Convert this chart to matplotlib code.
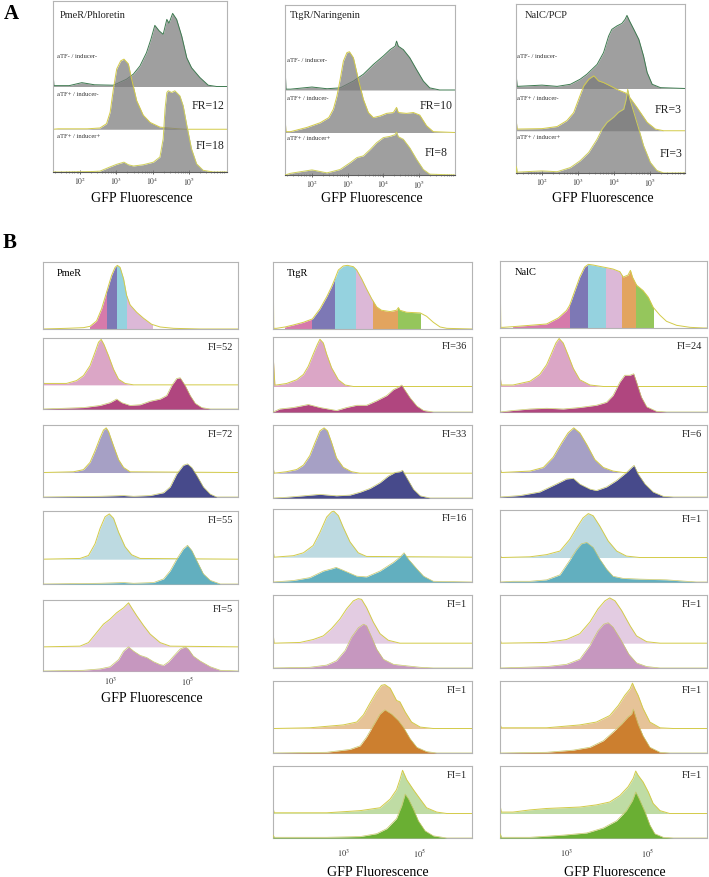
import numpy as np
import matplotlib
matplotlib.use("Agg")
import matplotlib.pyplot as plt
from matplotlib.patches import Rectangle

plt.rcParams['font.family'] = ['Liberation Serif', 'DejaVu Serif']
plt.rcParams['mathtext.fontset'] = 'stix'

W, H = 709, 878

# ---------------- data: (log10 GFP, histogram height) ----------------
# panel A, heights in lane units (one lane per sample)
a_pmer_off = [(1.26, 0.30), (1.28, 0.02), (1.7, 0.02), (2.05, 0.09), (2.4, 0.04), (2.92, 0.03), (3.28, 0.17),
              (3.47, 0.29), (3.65, 0.48), (3.83, 0.79), (3.95, 1.10), (4.06, 1.43), (4.18, 1.30), (4.29, 1.22),
              (4.39, 1.57), (4.45, 1.48), (4.55, 1.71), (4.66, 1.57), (4.80, 1.18), (4.94, 0.67), (5.07, 0.44),
              (5.30, 0.21), (5.53, 0.03), (5.76, 0.0)]
a_pmer_mid = [(1.4, 0.01), (2.2, 0.01), (2.55, 0.03), (2.73, 0.13), (2.83, 0.40), (2.92, 0.95), (3.01, 1.41),
              (3.12, 1.60), (3.21, 1.64), (3.33, 1.53), (3.42, 1.18), (3.56, 0.67), (3.74, 0.33), (3.93, 0.16),
              (4.20, 0.05), (4.57, 0.02), (4.9, 0.0)]
a_pmer_on = [(1.5, 0.0), (2.3, 0.01), (2.55, 0.02), (2.83, 0.12), (3.01, 0.18), (3.21, 0.23), (3.33, 0.17),
             (3.47, 0.14), (3.74, 0.17), (4.02, 0.23), (4.20, 0.35), (4.29, 0.78), (4.34, 1.47), (4.39, 1.86),
             (4.43, 1.90), (4.52, 1.86), (4.61, 1.90), (4.75, 1.78), (4.84, 1.55), (4.94, 1.09), (5.07, 0.54),
             (5.21, 0.19), (5.39, 0.04), (5.67, 0.0)]

a_ttgr_off = [(1.25, 0.48), (1.27, 0.02), (1.40, 0.02), (2.0, 0.07), (2.42, 0.03), (2.79, 0.05), (3.16, 0.21),
              (3.44, 0.37), (3.72, 0.60), (4.0, 0.80), (4.19, 0.95), (4.33, 1.03), (4.37, 1.15), (4.42, 1.03),
              (4.56, 0.95), (4.74, 0.76), (4.93, 0.48), (5.12, 0.21), (5.30, 0.05), (5.58, 0.0)]
a_ttgr_mid = [(1.25, 0.30), (1.27, 0.02), (1.40, 0.02), (1.86, 0.12), (2.23, 0.23), (2.47, 0.35), (2.60, 0.55),
              (2.70, 0.86), (2.79, 1.25), (2.88, 1.68), (2.98, 1.88), (3.05, 1.90), (3.16, 1.76), (3.30, 1.25),
              (3.44, 0.78), (3.58, 0.47), (3.72, 0.35), (3.91, 0.39), (4.09, 0.45), (4.28, 0.47), (4.37, 0.59),
              (4.42, 0.47), (4.65, 0.45), (4.84, 0.47), (5.02, 0.41), (5.21, 0.16), (5.40, 0.02)]
a_ttgr_on = [(1.40, 0.04), (2.0, 0.12), (2.42, 0.05), (2.79, 0.13), (3.07, 0.29), (3.26, 0.41), (3.44, 0.45),
             (3.63, 0.60), (3.81, 0.76), (4.0, 0.88), (4.19, 0.91), (4.33, 0.95), (4.37, 1.01), (4.42, 0.90),
             (4.56, 0.84), (4.74, 0.64), (4.93, 0.37), (5.12, 0.13), (5.30, 0.02)]

a_nalc_off = [(1.29, 0.25), (1.31, 0.05), (2.0, 0.08), (2.42, 0.05), (2.79, 0.10), (3.06, 0.22), (3.25, 0.34),
              (3.53, 0.57), (3.71, 0.85), (3.85, 1.24), (3.94, 1.40), (4.08, 1.48), (4.22, 1.54), (4.31, 1.64),
              (4.36, 1.73), (4.43, 1.60), (4.55, 1.40), (4.69, 1.16), (4.82, 0.77), (4.92, 0.38), (5.06, 0.10),
              (5.29, 0.02)]
a_nalc_mid = [(1.29, 0.20), (1.31, 0.04), (2.0, 0.05), (2.42, 0.10), (2.69, 0.24), (2.88, 0.43), (3.02, 0.75),
              (3.16, 1.06), (3.30, 1.22), (3.44, 1.30), (3.57, 1.18), (3.71, 1.14), (3.90, 1.06), (4.08, 0.98),
              (4.36, 0.88), (4.64, 0.55), (4.92, 0.20), (5.15, 0.04), (5.38, 0.0)]
a_nalc_on = [(1.29, 0.15), (1.31, 0.02), (2.0, 0.05), (2.42, 0.03), (2.79, 0.13), (3.06, 0.29), (3.30, 0.49),
             (3.53, 0.80), (3.67, 1.04), (3.81, 1.20), (3.99, 1.32), (4.13, 1.44), (4.27, 1.51), (4.34, 1.75),
             (4.38, 1.98), (4.44, 1.75), (4.55, 1.44), (4.69, 1.04), (4.82, 0.65), (5.01, 0.25), (5.19, 0.06),
             (5.38, 0.0)]

# panel B, heights as a fraction of the box height
pmer_ref = [(1.87, 0.01), (2.31, 0.02), (2.48, 0.04), (2.65, 0.12), (2.78, 0.30), (2.91, 0.55), (3.04, 0.80),
            (3.13, 0.92), (3.19, 0.95), (3.26, 0.92), (3.35, 0.75), (3.43, 0.50), (3.52, 0.36), (3.69, 0.25),
            (3.87, 0.16), (4.08, 0.07), (4.30, 0.03), (4.65, 0.01), (5.34, 0.0)]
pmer_gates = [2.48, 2.93, 3.19, 3.45, 4.08]
pmer_r1_top = [(1.26, 0.07), (1.28, 0.02), (1.87, 0.02), (2.13, 0.06), (2.31, 0.13), (2.48, 0.27), (2.61, 0.46),
               (2.70, 0.60), (2.77, 0.64), (2.84, 0.57), (2.96, 0.41), (3.09, 0.22), (3.22, 0.08), (3.39, 0.02),
               (3.61, 0.0)]
pmer_r1_bot = [(2.31, 0.02), (2.74, 0.05), (3.0, 0.09), (3.17, 0.14), (3.30, 0.09), (3.52, 0.05), (3.78, 0.06),
               (4.04, 0.11), (4.30, 0.14), (4.47, 0.19), (4.60, 0.33), (4.73, 0.43), (4.82, 0.44), (4.95, 0.33),
               (5.08, 0.19), (5.21, 0.08), (5.38, 0.02), (5.60, 0.0)]
pmer_r2_top = [(2.05, 0.01), (2.31, 0.04), (2.48, 0.14), (2.61, 0.30), (2.74, 0.48), (2.83, 0.59), (2.90, 0.62),
               (2.96, 0.57), (3.09, 0.37), (3.22, 0.18), (3.35, 0.07), (3.52, 0.01)]
pmer_r2_bot = [(2.74, 0.01), (3.35, 0.02), (3.61, 0.01), (4.04, 0.02), (4.39, 0.06), (4.56, 0.14), (4.73, 0.32),
               (4.90, 0.44), (5.01, 0.46), (5.12, 0.41), (5.25, 0.30), (5.42, 0.14), (5.60, 0.04), (5.77, 0.0)]
pmer_r3_top = [(2.22, 0.01), (2.44, 0.05), (2.61, 0.21), (2.74, 0.42), (2.87, 0.58), (2.98, 0.62), (3.09, 0.56),
               (3.22, 0.37), (3.39, 0.17), (3.56, 0.06), (3.78, 0.01)]
pmer_r3_bot = [(2.74, 0.01), (3.35, 0.02), (3.61, 0.01), (4.13, 0.02), (4.39, 0.07), (4.56, 0.18), (4.73, 0.34),
               (4.90, 0.48), (5.01, 0.53), (5.12, 0.46), (5.25, 0.32), (5.42, 0.14), (5.60, 0.05), (5.86, 0.0)]
pmer_r4_top = [(2.22, 0.01), (2.44, 0.06), (2.65, 0.20), (2.83, 0.32), (3.0, 0.39), (3.17, 0.48), (3.35, 0.55),
               (3.48, 0.62), (3.56, 0.55), (3.69, 0.44), (3.87, 0.30), (4.04, 0.18), (4.30, 0.06), (4.56, 0.01)]
pmer_r4_bot = [(2.31, 0.01), (2.74, 0.03), (3.0, 0.06), (3.22, 0.16), (3.35, 0.28), (3.48, 0.34), (3.61, 0.28),
               (3.78, 0.22), (3.95, 0.19), (4.13, 0.13), (4.30, 0.09), (4.39, 0.08), (4.52, 0.13), (4.65, 0.21),
               (4.82, 0.31), (4.95, 0.34), (5.03, 0.31), (5.16, 0.21), (5.34, 0.14), (5.60, 0.06), (5.86, 0.01)]
pmer_fi = [52, 72, 55, 5]

ttgr_ref = [(1.12, 0.60), (1.13, 0.01), (1.20, 0.01), (1.43, 0.03), (1.65, 0.06), (1.92, 0.10), (2.16, 0.15),
            (2.36, 0.30), (2.54, 0.48), (2.67, 0.63), (2.76, 0.75), (2.85, 0.88), (2.98, 0.94), (3.09, 0.95),
            (3.25, 0.93), (3.34, 0.88), (3.47, 0.75), (3.60, 0.60), (3.74, 0.45), (3.87, 0.33), (4.0, 0.28),
            (4.23, 0.26), (4.40, 0.28), (4.45, 0.32), (4.49, 0.28), (4.67, 0.25), (5.03, 0.24), (5.20, 0.19),
            (5.38, 0.10), (5.56, 0.03), (5.74, 0.01)]
ttgr_gates = [1.43, 2.16, 2.76, 3.31, 3.76, 4.43, 5.03]
ttgr_r1_top = [(1.12, 0.36), (1.16, 0.02), (1.20, 0.02), (1.47, 0.04), (1.74, 0.09), (1.92, 0.16), (2.05, 0.27),
               (2.18, 0.43), (2.29, 0.56), (2.36, 0.63), (2.45, 0.58), (2.54, 0.43), (2.67, 0.25), (2.85, 0.09),
               (3.03, 0.02), (3.25, 0.0)]
ttgr_r1_bot = [(1.29, 0.04), (1.65, 0.06), (2.05, 0.10), (2.36, 0.06), (2.80, 0.02), (3.07, 0.06), (3.34, 0.09),
               (3.60, 0.09), (3.87, 0.15), (4.14, 0.22), (4.32, 0.30), (4.45, 0.33), (4.54, 0.36), (4.60, 0.31),
               (4.76, 0.19), (4.94, 0.08), (5.12, 0.02), (5.38, 0.0)]
ttgr_r2_top = [(1.12, 0.06), (1.14, 0.0), (1.47, 0.02), (1.74, 0.05), (1.92, 0.11), (2.09, 0.24), (2.23, 0.42),
               (2.36, 0.58), (2.47, 0.62), (2.56, 0.58), (2.67, 0.42), (2.80, 0.21), (2.98, 0.08), (3.20, 0.02),
               (3.42, 0.0)]
ttgr_r2_bot = [(1.47, 0.01), (1.92, 0.03), (2.36, 0.05), (2.80, 0.03), (3.16, 0.04), (3.43, 0.08), (3.69, 0.13),
               (3.96, 0.21), (4.18, 0.30), (4.36, 0.35), (4.49, 0.36), (4.56, 0.38), (4.67, 0.28), (4.85, 0.12),
               (5.03, 0.03), (5.29, 0.0)]
ttgr_r3_top = [(1.12, 0.07), (1.14, 0.0), (1.65, 0.02), (1.92, 0.06), (2.18, 0.16), (2.36, 0.34), (2.54, 0.55),
               (2.67, 0.62), (2.73, 0.63), (2.85, 0.57), (2.98, 0.41), (3.16, 0.21), (3.38, 0.06), (3.60, 0.01)]
ttgr_r3_bot = [(1.65, 0.02), (2.09, 0.06), (2.45, 0.15), (2.67, 0.18), (2.79, 0.20), (2.98, 0.16), (3.34, 0.08),
               (3.60, 0.07), (3.96, 0.15), (4.32, 0.27), (4.49, 0.34), (4.60, 0.40), (4.72, 0.31), (4.94, 0.18),
               (5.12, 0.08), (5.38, 0.01)]
ttgr_r4_top = [(1.12, 0.10), (1.14, 0.0), (1.83, 0.01), (2.18, 0.05), (2.45, 0.10), (2.67, 0.20), (2.89, 0.33),
               (3.07, 0.47), (3.25, 0.58), (3.38, 0.61), (3.47, 0.60), (3.60, 0.49), (3.78, 0.29), (3.96, 0.13),
               (4.18, 0.04), (4.49, 0.0)]
ttgr_r4_bot = [(2.09, 0.01), (2.54, 0.04), (2.80, 0.10), (3.03, 0.24), (3.20, 0.42), (3.38, 0.55), (3.52, 0.60),
               (3.60, 0.58), (3.74, 0.42), (3.87, 0.26), (4.05, 0.12), (4.32, 0.05), (4.67, 0.03), (5.03, 0.01),
               (5.38, 0.0)]
ttgr_r5_top = [(2.09, 0.01), (2.98, 0.05), (3.34, 0.09), (3.52, 0.19), (3.69, 0.35), (3.87, 0.51), (4.0, 0.60),
               (4.09, 0.61), (4.23, 0.56), (4.40, 0.39), (4.49, 0.37), (4.63, 0.23), (4.80, 0.09), (5.03, 0.02),
               (5.38, 0.0)]
ttgr_r5_bot = [(2.54, 0.01), (3.16, 0.05), (3.43, 0.10), (3.60, 0.22), (3.78, 0.38), (3.96, 0.54), (4.09, 0.60),
               (4.27, 0.54), (4.45, 0.45), (4.58, 0.36), (4.76, 0.20), (4.94, 0.08), (5.20, 0.02), (5.47, 0.0)]
ttgr_r6_top = [(1.12, 0.06), (1.14, 0.01), (2.54, 0.01), (3.43, 0.04), (3.96, 0.08), (4.23, 0.20), (4.40, 0.33),
               (4.49, 0.47), (4.56, 0.60), (4.67, 0.47), (4.85, 0.33), (5.03, 0.20), (5.20, 0.08), (5.47, 0.02),
               (5.74, 0.0)]
ttgr_r6_bot = [(1.12, 0.04), (1.14, 0.01), (2.54, 0.01), (3.43, 0.02), (3.87, 0.06), (4.14, 0.13), (4.40, 0.27),
               (4.54, 0.45), (4.63, 0.61), (4.72, 0.54), (4.85, 0.40), (4.98, 0.24), (5.16, 0.10), (5.38, 0.03),
               (5.74, 0.0)]
ttgr_fi = [36, 33, 16, 1, 1, 1]

nalc_ref = [(1.36, 0.49), (1.37, 0.01), (1.43, 0.01), (1.67, 0.02), (2.09, 0.04), (2.50, 0.06), (2.79, 0.15),
            (2.99, 0.26), (3.07, 0.34), (3.20, 0.56), (3.32, 0.76), (3.44, 0.91), (3.53, 0.95), (3.65, 0.94),
            (3.81, 0.92), (3.98, 0.90), (4.14, 0.88), (4.31, 0.84), (4.39, 0.76), (4.51, 0.79), (4.57, 0.86),
            (4.62, 0.76), (4.72, 0.64), (4.88, 0.56), (5.01, 0.46), (5.13, 0.31), (5.30, 0.19), (5.46, 0.10),
            (5.71, 0.04), (6.04, 0.01), (6.37, 0.0)]
nalc_gates = [1.67, 3.07, 3.53, 3.97, 4.37, 4.70, 5.12]
nalc_r1_top = [(1.36, 0.11), (1.38, 0.02), (1.67, 0.02), (2.09, 0.07), (2.33, 0.16), (2.50, 0.29), (2.62, 0.44),
               (2.73, 0.58), (2.81, 0.64), (2.91, 0.58), (3.03, 0.42), (3.16, 0.24), (3.32, 0.09), (3.57, 0.02),
               (3.90, 0.0)]
nalc_r1_bot = [(1.67, 0.02), (2.09, 0.04), (2.50, 0.05), (2.91, 0.04), (3.32, 0.06), (3.73, 0.09), (3.98, 0.13),
               (4.14, 0.22), (4.31, 0.40), (4.43, 0.49), (4.56, 0.49), (4.65, 0.51), (4.72, 0.40), (4.84, 0.20),
               (4.97, 0.07), (5.21, 0.01), (5.46, 0.0)]
nalc_r2_top = [(1.36, 0.05), (1.38, 0.0), (2.09, 0.02), (2.42, 0.07), (2.66, 0.21), (2.87, 0.41), (3.03, 0.55),
               (3.17, 0.62), (3.32, 0.55), (3.49, 0.39), (3.69, 0.18), (3.90, 0.07), (4.14, 0.02), (4.39, 0.0)]
nalc_r2_bot = [(1.84, 0.02), (2.33, 0.07), (2.74, 0.18), (2.99, 0.25), (3.16, 0.26), (3.32, 0.18), (3.57, 0.11),
               (3.73, 0.09), (3.98, 0.14), (4.23, 0.23), (4.47, 0.34), (4.60, 0.41), (4.66, 0.44), (4.76, 0.32),
               (4.93, 0.18), (5.13, 0.07), (5.38, 0.01), (5.63, 0.0)]
nalc_r3_top = [(1.36, 0.03), (1.38, 0.0), (2.09, 0.01), (2.50, 0.04), (2.83, 0.09), (3.07, 0.25), (3.24, 0.41),
               (3.40, 0.55), (3.53, 0.61), (3.65, 0.58), (3.81, 0.44), (4.02, 0.23), (4.23, 0.09), (4.47, 0.02),
               (4.80, 0.0)]
nalc_r3_bot = [(1.67, 0.01), (2.09, 0.01), (2.50, 0.03), (2.83, 0.10), (3.07, 0.30), (3.24, 0.45), (3.36, 0.53),
               (3.49, 0.55), (3.65, 0.48), (3.81, 0.32), (3.98, 0.18), (4.14, 0.08), (4.39, 0.05), (4.80, 0.04),
               (5.46, 0.03), (5.95, 0.01), (6.2, 0.0)]
nalc_r4_top = [(1.36, 0.04), (1.38, 0.0), (2.50, 0.01), (2.99, 0.05), (3.32, 0.13), (3.57, 0.29), (3.77, 0.47),
               (3.94, 0.58), (4.06, 0.62), (4.19, 0.58), (4.35, 0.45), (4.56, 0.24), (4.72, 0.10), (4.97, 0.02),
               (5.30, 0.0)]
nalc_r4_bot = [(2.50, 0.02), (2.99, 0.05), (3.32, 0.12), (3.57, 0.31), (3.77, 0.51), (3.91, 0.60), (4.02, 0.62),
               (4.14, 0.56), (4.33, 0.39), (4.53, 0.19), (4.72, 0.07), (4.97, 0.02), (5.30, 0.0)]
nalc_r5_top = [(1.36, 0.05), (1.38, 0.01), (2.50, 0.01), (3.32, 0.05), (3.73, 0.09), (4.06, 0.18), (4.27, 0.32),
               (4.43, 0.46), (4.56, 0.55), (4.62, 0.63), (4.68, 0.55), (4.76, 0.46), (4.88, 0.28), (5.05, 0.09),
               (5.30, 0.01), (5.63, 0.0)]
nalc_r5_bot = [(2.50, 0.01), (3.16, 0.04), (3.57, 0.08), (3.90, 0.17), (4.14, 0.29), (4.35, 0.40), (4.51, 0.50),
               (4.60, 0.54), (4.64, 0.61), (4.69, 0.52), (4.76, 0.40), (4.88, 0.24), (5.05, 0.08), (5.30, 0.01),
               (5.54, 0.0)]
nalc_r6_top = [(1.36, 0.09), (1.38, 0.02), (1.67, 0.02), (2.09, 0.05), (2.50, 0.07), (2.91, 0.08), (3.32, 0.09),
               (3.73, 0.12), (4.06, 0.16), (4.31, 0.25), (4.51, 0.37), (4.64, 0.49), (4.70, 0.59), (4.76, 0.53),
               (4.88, 0.44), (5.01, 0.30), (5.13, 0.14), (5.30, 0.04), (5.54, 0.0)]
nalc_r6_bot = [(1.36, 0.06), (1.38, 0.01), (2.09, 0.01), (2.91, 0.04), (3.49, 0.07), (3.90, 0.14), (4.23, 0.24),
               (4.47, 0.38), (4.62, 0.52), (4.70, 0.64), (4.78, 0.55), (4.93, 0.36), (5.05, 0.18), (5.17, 0.06),
               (5.38, 0.01), (5.63, 0.0)]
nalc_fi = [24, 6, 1, 1, 1, 1]

a_titles = ['PmeR/Phloretin', 'TtgR/Naringenin', 'NalC/PCP']
a_fr = ['FR=12', 'FR=10', 'FR=3']
a_fi = ['FI=18', 'FI=8', 'FI=3']
a_lanes = ['aTF- / inducer-', 'aTF+ / inducer-', 'aTF+ / inducer+']

gate_colors = ['#d67aab', '#7d78b5', '#95d2df', '#dcb8d7', '#e2a45f', '#95c65c']
row_colors = [('#dba6c6', '#b0467f'), ('#a6a0c5', '#474a8b'), ('#bddae1', '#62afbf'),
              ('#e3cce2', '#c697bf'), ('#e6c398', '#cc7f2f'), ('#bfdca4', '#6aaf33')]
EDGE = '#d3cb48'
FRAME = '#b4b4b4'


def frac(x0, y0, x1, y1):
    return [x0 / W, 1 - y1 / H, (x1 - x0) / W, (y1 - y0) / H]


def ftext(x, y, s, **kw):
    fig.text(x / W, 1 - y / H, s, **kw)


def draw_hist(ax, pts, base, fill, edge, alpha=1.0, z=1, lw=0.7):
    lo, hi = ax.get_xlim()
    xs, ys = zip(*pts)
    x = np.concatenate([[lo], xs, [hi]])
    y = base + np.concatenate([[0.0], ys, [0.0]])
    ax.fill_between(x, base, y, color=fill, alpha=alpha, lw=0, zorder=z)
    ax.plot(x, y, color=edge, lw=lw, zorder=z + 0.5, solid_joinstyle='round')


def frame(ax, bottom=FRAME):
    for s in ax.spines.values():
        s.set_color(FRAME)
        s.set_linewidth(0.8)
    ax.spines['bottom'].set_color(bottom)


fig = plt.figure(figsize=(W / 100, H / 100), dpi=100)

# ---------------- panel A ----------------
a_boxes = [(53, 2, 227, 173), (285, 6, 455, 176), (516, 5, 685, 174)]
a_xlims = [(1.256, 6.047), (1.244, 6.008), (1.278, 5.972)]
a_data = [(a_pmer_off, a_pmer_mid, a_pmer_on), (a_ttgr_off, a_ttgr_mid, a_ttgr_on),
          (a_nalc_off, a_nalc_mid, a_nalc_on)]
a_title_xy = [(60, 15), (290, 15), (525, 16)]
a_lane_xy = [(57, [56, 94, 137]), (287, [60, 98, 139]), (517, [57, 98, 138])]
a_fr_xy = [(224, 106), (453, 106), (682, 110)]
a_fi_xy = [(224, 146), (448, 153), (682, 154)]

for i in range(3):
    x0, y0, x1, y1 = a_boxes[i]
    ax = fig.add_axes(frac(x0, y0, x1, y1))
    ax.set_xlim(*a_xlims[i])
    ax.set_ylim(0, 4.0)
    off, mid, on = a_data[i]
    draw_hist(ax, off, 2.0, '#7a7a7a', '#3e7a50', alpha=0.72, z=1)
    draw_hist(ax, mid, 1.0, '#7a7a7a', EDGE, alpha=0.72, z=2)
    draw_hist(ax, on, 0.0, '#7a7a7a', '#cfcf5a', alpha=0.72, z=3)
    frame(ax, bottom='#505050')
    ax.set_yticks([])
    ax.set_xticks([2, 3, 4, 5])
    ax.set_xticklabels(['$10^2$', '$10^3$', '$10^4$', '$10^5$'], fontsize=5.5, color='#333333')
    minors = [d + np.log10(k) for d in range(1, 6) for k in range(2, 10)]
    ax.set_xticks([m for m in minors if a_xlims[i][0] < m < a_xlims[i][1]], minor=True)
    ax.tick_params(axis='x', which='major', direction='inout', length=3, width=0.6, color='#505050', pad=0.5)
    ax.tick_params(axis='x', which='minor', direction='inout', length=1.8, width=0.4, color='#505050')

    ftext(*a_title_xy[i], a_titles[i], fontsize=7.5, ha='left', va='center', color='#222222')
    lx, lys = a_lane_xy[i]
    for ly, lab in zip(lys, a_lanes):
        ftext(lx, ly, lab, fontsize=4.8, ha='left', va='center', color='#333333')
    ftext(*a_fr_xy[i], a_fr[i], fontsize=8.5, ha='right', va='center', color='#222222')
    ftext(*a_fi_xy[i], a_fi[i], fontsize=8.5, ha='right', va='center', color='#222222')
    ftext((x0 + x1) / 2 + 2, 199, 'GFP Fluorescence', fontsize=10, ha='center', va='center')

ftext(11, 14, 'A', fontsize=15, fontweight='bold', ha='center', va='center')
ftext(10, 243, 'B', fontsize=15, fontweight='bold', ha='center', va='center')

# ---------------- panel B ----------------
columns = [
    dict(name='PmeR', x=(43, 238), xlim=(1.26, 6.32), ref=pmer_ref, gates=pmer_gates,
         boxes=[(263, 330), (339, 410), (426, 498), (512, 585), (601, 672)],
         rows=[(pmer_r1_top, pmer_r1_bot), (pmer_r2_top, pmer_r2_bot), (pmer_r3_top, pmer_r3_bot),
               (pmer_r4_top, pmer_r4_bot)],
         fi=pmer_fi, label_xy=(152, 699), pad=2.5),
    dict(name='TtgR', x=(273, 472), xlim=(1.11, 6.41), ref=ttgr_ref, gates=ttgr_gates,
         boxes=[(263, 330), (338, 413), (426, 499), (510, 583), (596, 669), (682, 754), (767, 839)],
         rows=[(ttgr_r1_top, ttgr_r1_bot), (ttgr_r2_top, ttgr_r2_bot), (ttgr_r3_top, ttgr_r3_bot),
               (ttgr_r4_top, ttgr_r4_bot), (ttgr_r5_top, ttgr_r5_bot), (ttgr_r6_top, ttgr_r6_bot)],
         fi=ttgr_fi, label_xy=(378, 873), pad=6.5),
    dict(name='NalC', x=(500, 707), xlim=(1.35, 6.46), ref=nalc_ref, gates=nalc_gates,
         boxes=[(262, 329), (338, 413), (426, 498), (511, 583), (596, 669), (682, 754), (767, 839)],
         rows=[(nalc_r1_top, nalc_r1_bot), (nalc_r2_top, nalc_r2_bot), (nalc_r3_top, nalc_r3_bot),
               (nalc_r4_top, nalc_r4_bot), (nalc_r5_top, nalc_r5_bot), (nalc_r6_top, nalc_r6_bot)],
         fi=nalc_fi, label_xy=(615, 873), pad=6.5),
]
MID = 0.34

for col in columns:
    bx0, bx1 = col['x']
    # reference histogram with coloured gates
    y0, y1 = col['boxes'][0]
    ax = fig.add_axes(frac(bx0, y0, bx1, y1))
    ax.set_xlim(*col['xlim'])
    ax.set_ylim(0, 1)
    lo, hi = ax.get_xlim()
    xs, ys = zip(*col['ref'])
    x = np.concatenate([[lo], xs, [hi]])
    y = np.concatenate([[0.0], ys, [0.0]])
    g = col['gates']
    for k in range(len(g) - 1):
        poly = ax.fill_between(x, 0, y, color=gate_colors[k], lw=0, zorder=1)
        poly.set_clip_path(Rectangle((g[k], 0), g[k + 1] - g[k], 1.2, transform=ax.transData))
    ax.plot(x, y, color=EDGE, lw=0.7, zorder=2)
    frame(ax)
    ax.set_xticks([])
    ax.set_yticks([])
    ax.text(0.07, 0.84, col['name'], transform=ax.transAxes, fontsize=7.5, ha='left', va='center')

    nrows = len(col['rows'])
    for r in range(nrows):
        y0, y1 = col['boxes'][r + 1]
        ax = fig.add_axes(frac(bx0, y0, bx1, y1))
        ax.set_xlim(*col['xlim'])
        ax.set_ylim(0, 1)
        top, bot = col['rows'][r]
        light, dark = row_colors[r]
        draw_hist(ax, top, MID, light, EDGE, z=1, lw=0.7)
        draw_hist(ax, bot, 0.0, dark, '#c8c86a', z=3, lw=0.5)
        frame(ax)
        ax.set_yticks([])
        ax.text(0.975, 0.88, 'FI=%d' % col['fi'][r], transform=ax.transAxes, fontsize=7.5,
                ha='right', va='center', color='#222222')
        if r == nrows - 1:
            ax.set_xticks([3, 5])
            ax.set_xticklabels(['$10^3$', '$10^5$'], fontsize=6, color='#333333')
            ax.tick_params(axis='x', length=0, pad=col['pad'])
        else:
            ax.set_xticks([])
    ftext(*col['label_xy'], 'GFP Fluorescence', fontsize=10, ha='center', va='center')

fig.savefig('out.png', dpi=100)
